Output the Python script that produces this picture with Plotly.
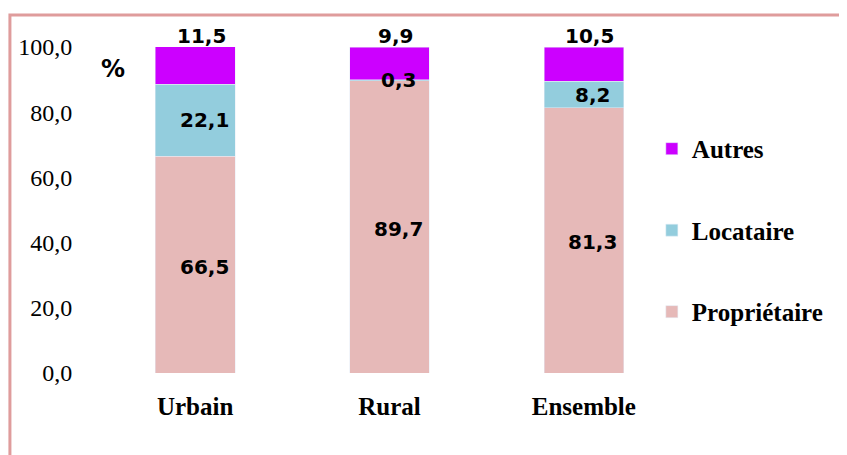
import plotly.graph_objects as go

categories = ['Urbain', 'Rural', 'Ensemble']
proprietaire = [66.5, 89.7, 81.3]
locataire = [22.1, 0.3, 8.2]
autres = [11.5, 9.9, 10.5]
y_ticks = [0, 20, 40, 60, 80, 100]

c_prop = '#E6B9B8'
c_loc = '#93CDDD'
c_aut = '#CC00FF'

fig = go.Figure()
fig.add_trace(go.Bar(x=categories, y=proprietaire, name='<b>Propriétaire</b>',
                     marker_color=c_prop, legendgroup='p', legendrank=3))
fig.add_trace(go.Bar(x=categories, y=locataire, name='<b>Locataire</b>',
                     marker_color=c_loc, legendgroup='l', legendrank=2))
fig.add_trace(go.Bar(x=categories, y=autres, name='<b>Autres</b>',
                     marker_color=c_aut, legendgroup='a', legendrank=1))

def fmt(v):
    return f'{v:.1f}'.replace('.', ',')

lab_font = dict(family='DejaVu Sans', size=20, color='black')
for i, cat in enumerate(categories):
    p, l, a = proprietaire[i], locataire[i], autres[i]
    # proprietaire: middle of segment
    fig.add_annotation(x=cat, y=p / 2, text='<b>' + fmt(p) + '</b>', showarrow=False,
                       font=lab_font, xshift=9, yshift=-2)
    # locataire: middle of segment, a tiny one sits on the boundary
    ly = p + l / 2 if l > 2 else p + l
    fig.add_annotation(x=cat, y=ly, text='<b>' + fmt(l) + '</b>', showarrow=False,
                       font=lab_font, xshift=9)
    # autres: just above the bar top (kept inside the axis range)
    fig.add_annotation(x=cat, y=min(p + l + a, 100), text='<b>' + fmt(a) + '</b>',
                       showarrow=False, font=lab_font, xshift=6, yanchor='bottom',
                       yshift=-3)

fig.add_annotation(x=0.026, y=0.933, xref='paper', yref='paper', text='<b>%</b>',
                   xanchor='center', yanchor='middle', showarrow=False,
                   font=dict(family='DejaVu Sans', size=24, color='black'))

# pink frame
fig.add_shape(type='rect', xref='paper', yref='paper',
              x0=(2 - 90) / 582.5, x1=(870 - 90) / 582.5,
              y0=(365 - 480) / 326, y1=(365 - 7) / 326,
              line=dict(color='#DF9C9C', width=3), fillcolor='rgba(0,0,0,0)')

fig.update_layout(
    width=847, height=455,
    barmode='stack', bargap=0.59,
    separators=', ',
    plot_bgcolor='white', paper_bgcolor='white',
    margin=dict(l=90, r=174, t=39, b=90),
    showlegend=True,
    legend=dict(x=0.950, y=0.758, xanchor='left', yanchor='top',
                traceorder='grouped', tracegroupgap=46,
                font=dict(family='Liberation Serif', size=25, color='black'),
                bgcolor='rgba(0,0,0,0)'),
    xaxis=dict(showgrid=False, showline=False, ticks='outside', ticklen=11,
               tickcolor='rgba(0,0,0,0)', automargin=False,
               tickfont=dict(family='Liberation Serif', size=25, color='black'),
               tickvals=categories, ticktext=['<b>' + c + '</b>' for c in categories]),
    yaxis=dict(range=[0, 100], tickvals=y_ticks, tickformat='.1f', showgrid=False,
               zeroline=False, showline=False, ticks='outside', ticklen=20,
               tickcolor='rgba(0,0,0,0)', automargin=False,
               tickfont=dict(family='Liberation Serif', size=24, color='black')),
)

fig.write_html('out.html')
